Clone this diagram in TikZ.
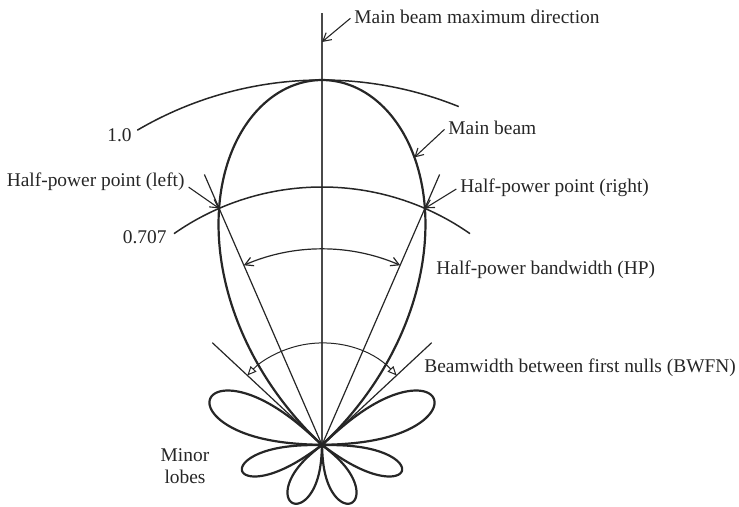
\documentclass[tikz,border=0pt]{standalone}
\usepackage{fontspec}
\setmainfont{Liberation Serif}
\usetikzlibrary{arrows.meta}
\definecolor{PatInk}{HTML}{262626}
\definecolor{PatAxis}{HTML}{4A4A4A}

\tikzset{
  lobe/.style={PatInk, line width=1.1pt, line join=round},
  levelarc/.style={PatInk, line width=0.75pt},
  ray/.style={PatInk, line width=0.6pt},
  axisline/.style={PatAxis, line width=0.7pt},
  lbl/.style={PatInk, inner sep=1pt, font=\fontsize{9.7}{11}\selectfont},
  lblarrow/.style={PatInk, line width=0.55pt, shorten <=1pt, -{Straight Barb[length=4pt,width=4.5pt]}},
  spanarrow/.style={PatInk, line width=0.6pt, {Straight Barb[length=4pt,width=4.5pt]}-{Straight Barb[length=4pt,width=4.5pt]}},
  nullarrow/.style={PatInk, line width=0.5pt, {Triangle[open,length=4.5pt,width=4pt]}-{Triangle[open,length=4.5pt,width=4pt]}}
}

\begin{document}
\begin{tikzpicture}[x=0.5pt, y=0.5pt]
  \useasboundingbox (-322,-62) rectangle (417,445);
  \coordinate (O) at (0,0);
  \coordinate (axtop) at (0,432);
  \draw[axisline] (O) -- (axtop);

  % lobes: first null, second null, peak radius, fullness
  \foreach \a/\b/\amp/\p in {
    43/137/365/1,
    2/43/121/0.6,
    137/178/121/0.6,
    -36/0/84/0.6,
    180/216/84/0.6,
    -88/-38/65/0.6,
    218/268/65/0.6}{
    \draw[lobe] plot[domain=\a:\b, samples=100, smooth] (\x:{\amp*pow(abs(sin((\x-\a)/(\b-\a)*180)),\p)});
  }

  % level arcs
  \draw[levelarc] (68:365) arc[start angle=68, end angle=120.4, radius=365];
  \draw[levelarc] (55:258) arc[start angle=55, end angle=125, radius=258];
  \node[lbl, anchor=east] (onelbl) at (-188,310) {1.0};
  \node[lbl, anchor=east] (hplvl) at (-153,208) {0.707};

  % half-power and first-null rays
  \foreach \t in {66.5,113.5}
    \draw[ray] (O) -- (\t:295);
  \foreach \t in {43,137}
    \draw[ray] (O) -- (\t:150);
  \draw[spanarrow] (66.5:196) arc[start angle=66.5, end angle=113.5, radius=196];
  \draw[nullarrow] (43:102) arc[start angle=43, end angle=137, radius=102];

  % points the labels refer to
  \coordinate (maxpt) at (0,403);
  \coordinate (beampt) at (72.2:302);
  \coordinate (hpL) at (113.5:258);
  \coordinate (hpR) at (66.5:258);

  \node[lbl, anchor=west] (maxlbl) at (30,428) {Main beam maximum direction};
  \draw[lblarrow] (maxlbl.west) -- (maxpt);
  \node[lbl, anchor=west] (beamlbl) at (124,317) {Main beam};
  \draw[lblarrow] (beamlbl.west) -- (beampt);
  \node[lbl, anchor=east] (hpleftlbl) at (-135,263) {Half-power point (left)};
  \draw[lblarrow] ([yshift=-2pt]hpleftlbl.east) -- (hpL);
  \node[lbl, anchor=west] (hprightlbl) at (136,257) {Half-power point (right)};
  \draw[lblarrow] (hprightlbl.west) -- (hpR);
  \node[lbl, anchor=west] (hpbwlbl) at (112,175) {Half-power bandwidth (HP)};
  \node[lbl, anchor=west] (bwfnlbl) at (100,77) {Beamwidth between first nulls (BWFN)};
  \node[lbl, align=center] (minorlbl) at (-137,-21) {Minor\\lobes};
\end{tikzpicture}
\end{document}
